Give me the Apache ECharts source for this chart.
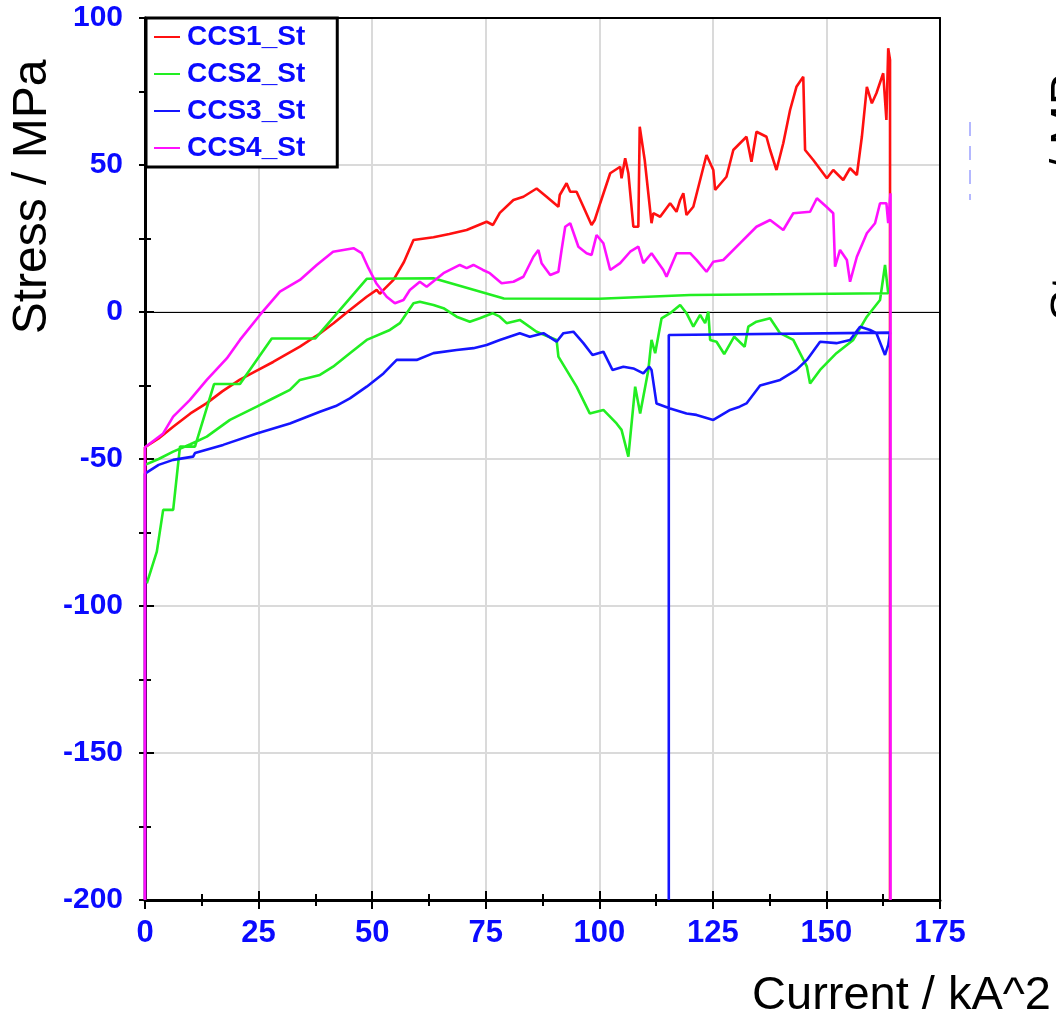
<!DOCTYPE html>
<html>
<head>
<meta charset="utf-8">
<style>
  html, body { margin: 0; padding: 0; background: #ffffff; }
  #chart { width: 1056px; height: 1020px; }
</style>
<script src="https://cdn.jsdelivr.net/npm/echarts@6/dist/echarts.min.js"></script>
</head>
<body>
<div id="chart"></div>
<script>
// Strain-gauge stress readings versus squared coil current.
const seriesNames = ['CCS1_St', 'CCS2_St', 'CCS3_St', 'CCS4_St'];
const seriesColors = ['#ff1010', '#22ee22', '#1515ff', '#ff10ff'];

// [current kA^2, stress MPa] in recording order
const ccs1Points = [
  [0,-200],[0,-46],[3,-43],[6.2,-39],[10,-34.5],[13.6,-31],[17,-27],[20.9,-23],[24.5,-20],[28.2,-17],
  [31,-14.5],[34.1,-11.8],[38.5,-7.3],[41.5,-3.8],[45.1,0.7],[48.8,5.2],[51,7.5],[51.7,6.2],[52.5,7.5],
  [54.7,10.9],[57,17],[59.1,24.5],[63.5,25.4],[67,26.5],[70.8,27.9],[75.2,30.7],[76.6,29.6],[78.1,33.7],
  [81.1,38.1],[83.3,39.2],[86.2,42],[88.4,39.2],[91,35.8],[91.3,39.8],[92.8,43.8],[93.6,40.9],[95,40.9],
  [96.5,35.8],[98.3,29.6],[99,31.3],[100.2,37],[102.4,47.2],[104.6,49.4],[104.9,45.5],[105.7,52.3],
  [106.4,47.2],[107.5,29],[108.6,29],[108.9,63],[110,51.7],[111.5,30.2],[111.9,33.6],[113.4,32.4],
  [115.6,37],[117,34.1],[117.8,38.1],[118.5,40.4],[119.2,33],[120.7,35.8],[123.6,53.4],[125.1,48.3],
  [125.5,41.5],[128,46],[129.5,55.1],[132.4,59.6],[133.5,51.1],[134.6,61.3],[136.8,59.6],[137.6,55.1],
  [139,48.3],[140.5,57.4],[142,68.7],[143.4,76.6],[144.9,80],[145.3,55.1],[147.1,51.7],[150.1,45.5],
  [151.5,48.3],[153.7,44.9],[155.2,48.9],[156.7,46.6],[157.8,59.6],[158.9,76.6],[160,71],[161,74.4],
  [162.5,81.2],[163.2,65.3],[163.6,89.7],[164,85.7],[164,-200]
];

const ccs2Points = [
  [0,-52],[3,-50],[6.2,-47.5],[10,-45],[13.6,-42.4],[18.7,-36.7],[24.6,-32.2],[28,-29.5],[31.9,-26.5],
  [34.1,-23.1],[38.5,-21.4],[41.4,-18.6],[45.1,-14],[48.8,-9.5],[53.9,-6.1],[56.1,-3.8],[59.1,3],
  [60.5,3.5],[63.5,2.4],[65.7,1.3],[68.6,-1.6],[71.5,-3.3],[73.7,-2.1],[76.5,-0.4],[78.1,-1.6],
  [79.6,-3.8],[82.5,-2.7],[86.2,-6.7],[90.6,-9.5],[91,-15.2],[95,-25.4],[97.9,-34.5],[100.9,-33.3],
  [103.8,-37.9],[104.9,-40.1],[106.4,-49.2],[107.9,-25.4],[109,-34.5],[110.8,-19.7],[111.5,-9.5],
  [112.3,-14],[113.7,-2.2],[115.6,-0.4],[117.8,2.4],[119.2,-0.4],[120.7,-5],[122.2,-1],[123.3,-3.8],
  [124,0.1],[124.4,-9.5],[125.8,-10.1],[127.5,-14.3],[129.7,-8.4],[132,-11.8],[132.8,-5],[134.6,-3.3],
  [137.6,-2.1],[139.8,-7.2],[142.7,-9.5],[145.7,-18.6],[146.4,-24.3],[148.6,-19.7],[152.2,-14],
  [155.9,-9.5],[158.9,-1.6],[161.8,4.1],[162.9,16],[163.6,6.4],
  [120,5.8],[100,4.5],[79,4.6],[63.5,11.5],[48.8,11.3],[37.5,-9],[27.9,-9],[20.9,-24.5],[15.2,-24.5],
  [11,-45.8],[7.7,-45.8],[6.2,-67.3],[4,-67.3],[2.6,-81.5],[2.2,-81.5],[0.4,-92.3]
];

const ccs3Points = [
  [0,-200],[0,-55],[3,-52],[6.2,-50.3],[10.6,-49.2],[11,-48],[17.2,-45.2],[24.6,-41.3],[31.9,-37.9],
  [38.5,-33.9],[42,-32],[45.1,-29.4],[48.8,-25.4],[52.5,-20.9],[55.4,-16.3],[59.8,-16.3],[63.5,-14],
  [68.6,-12.9],[72.3,-12.3],[75.2,-11.2],[78.1,-9.5],[82.5,-7.2],[84.7,-8.4],[87.7,-7.2],[90.6,-10.1],
  [92.1,-7.2],[94.3,-6.7],[96.5,-10.6],[98.5,-14.6],[100.9,-13.5],[102.9,-19.7],[105.3,-18.6],
  [107.5,-19.2],[109.7,-20.9],[111,-18.6],[111.5,-19.7],[112.6,-31.1],[115.6,-32.8],[119.2,-34.5],
  [121.4,-35],[125.1,-36.7],[128.8,-33.3],[130.9,-32.2],[132.4,-31.1],[135.4,-25],[139.8,-23.1],
  [143.4,-19.7],[145.7,-16.3],[148.6,-10.1],[152.2,-10.6],[155.2,-9.5],[157.4,-5],[159.6,-6.1],
  [161,-7.2],[162.9,-14.6],[163.6,-11.2],[164,-7],[115.3,-7.8],[115.3,-200]
];

const ccs4Points = [
  [0,-200],[0,-46],[4,-41.3],[6.2,-35.6],[9.9,-29.9],[13.6,-23.1],[18,-15.8],[20.9,-9.5],[25.3,-1],
  [29.7,6.9],[34.1,10.9],[37.8,16],[41.4,20.5],[45.9,21.7],[47.7,20],[49.2,14.9],[50.9,9.8],[53.2,5.2],
  [55,3],[56.9,4.1],[58.3,7.5],[60.5,10.3],[62,8.6],[65.7,13.2],[69.3,16],[70.8,14.9],[72.3,16],
  [74.4,14.3],[75.9,13.2],[78.5,9.8],[81.1,10.3],[83.3,12],[85.5,18.8],[86.6,21.1],[87.3,16.6],
  [89.2,12.6],[91,13.7],[91.7,21.1],[92.5,29],[93.6,30.2],[95.4,22.2],[97.2,20],[98.3,19.4],[99.4,26.2],
  [100.9,23.4],[102.4,14.3],[104.6,16.6],[106.8,20.5],[108.6,22.2],[109.7,16.6],[111.5,20],[114.1,14.3],
  [114.8,12],[117,20],[120,20],[121.4,17.7],[123.6,13.7],[125.1,17.1],[127.3,17.7],[131,23.4],
  [134.6,29],[137.6,31.3],[140.5,27.9],[142.7,33.6],[146.4,34.1],[147.9,38.7],[150,35.8],[151.5,33.6],
  [151.9,15.4],[153,21.1],[154.5,17.7],[155.2,10.3],[156.7,18.8],[158.9,26.8],[160.7,30.2],[161.8,37],
  [163.2,37],[163.6,30.2],[164.1,40.4],[164.1,-200]
];

const xRange = { min: 0, max: 175, step: 25 };
const yRange = { min: -200, max: 100, step: 50 };
const xTitle = 'Current / kA^2';
const yTitle = 'Stress / MPa';

const allPoints = [ccs1Points, ccs2Points, ccs3Points, ccs4Points];

const labelBlue = '#0a0aff';
const gridGray = '#dadada';

function xAxisBase(extra) {
  return Object.assign({
    type: 'value', min: xRange.min, max: xRange.max, interval: xRange.step,
    position: 'bottom', gridIndex: 0
  }, extra);
}
function yAxisBase(extra) {
  return Object.assign({
    type: 'value', min: yRange.min, max: yRange.max, interval: yRange.step,
    position: 'left', gridIndex: 0
  }, extra);
}

const tickStyle = { color: '#000', width: 2 };

const option = {
  animation: false,
  backgroundColor: '#ffffff',
  grid: { left: 145, right: 116, top: 18, bottom: 120, containLabel: false },
  xAxis: [
    xAxisBase({
      axisLine: { show: true, onZero: false, lineStyle: { color: '#000', width: 3 } },
      axisTick: { show: true, inside: true, length: 9, lineStyle: tickStyle },
      minorTick: { show: true, splitNumber: 2, length: 6, lineStyle: tickStyle },
      axisLabel: {
        show: true, margin: 18, color: labelBlue, fontWeight: 'bold', fontSize: 31,
        fontFamily: "'Liberation Sans', Arial, sans-serif"
      },
      splitLine: { show: true, lineStyle: { color: gridGray, width: 2 } }
    }),
    xAxisBase({
      axisLine: { show: false, onZero: false },
      axisTick: { show: true, inside: false, length: 9, lineStyle: tickStyle },
      minorTick: { show: true, splitNumber: 2, length: 6, lineStyle: tickStyle },
      axisLabel: { show: false },
      splitLine: { show: false }
    }),
    xAxisBase({
      position: 'top',
      axisLine: { show: true, onZero: false, lineStyle: { color: '#000', width: 2 } },
      axisTick: { show: false }, axisLabel: { show: false }, splitLine: { show: false }
    })
  ],
  yAxis: [
    yAxisBase({
      axisLine: { show: true, onZero: false, lineStyle: { color: '#000', width: 3 } },
      axisTick: { show: true, inside: true, length: 9, lineStyle: tickStyle },
      minorTick: { show: true, splitNumber: 2, length: 6, lineStyle: tickStyle },
      axisLabel: {
        show: true, margin: 22, color: labelBlue, fontWeight: 'bold', fontSize: 30,
        fontFamily: "'Liberation Sans', Arial, sans-serif"
      },
      splitLine: { show: true, lineStyle: { color: gridGray, width: 2 } }
    }),
    yAxisBase({
      axisLine: { show: false, onZero: false },
      axisTick: { show: true, inside: false, length: 6, lineStyle: tickStyle },
      minorTick: { show: true, splitNumber: 2, length: 6, lineStyle: tickStyle },
      axisLabel: { show: false },
      splitLine: { show: false }
    }),
    yAxisBase({
      position: 'right',
      axisLine: { show: true, onZero: false, lineStyle: { color: '#000', width: 2 } },
      axisTick: { show: false }, axisLabel: { show: false }, splitLine: { show: false }
    })
  ],
  legend: {
    data: seriesNames,
    orient: 'vertical',
    left: 146, top: 18,
    padding: [4, 32, 4, 8],
    itemGap: 7,
    itemWidth: 26,
    itemHeight: 2,
    icon: 'rect',
    backgroundColor: '#ffffff',
    borderColor: '#000000',
    borderWidth: 3,
    borderRadius: 0,
    textStyle: {
      color: labelBlue, fontWeight: 'bold', fontSize: 28, lineHeight: 30,
      fontFamily: "'Liberation Sans', Arial, sans-serif", padding: [0, 0, 0, 2]
    }
  },
  series: seriesNames.map(function (name, i) {
    const s = {
      name: name,
      type: 'line',
      xAxisIndex: 0,
      yAxisIndex: 0,
      data: allPoints[i],
      showSymbol: false,
      symbol: 'none',
      color: seriesColors[i],
      lineStyle: { color: seriesColors[i], width: 2.6 },
      z: 3 + i
    };
    if (i === 0) {
      s.markLine = {
        silent: true, symbol: 'none', label: { show: false },
        lineStyle: { color: '#000', width: 1.2, type: 'solid' },
        data: [{ yAxis: 0 }],
        z: 2
      };
    }
    return s;
  }),
  graphic: [
    {
      type: 'text', x: 33, y: 197, rotation: Math.PI / 2,
      style: {
        text: yTitle, fill: '#000', font: "48px 'Liberation Sans', Arial, sans-serif",
        textAlign: 'center', textVerticalAlign: 'middle'
      }
    },
    {
      type: 'text', x: 1071, y: 184, rotation: Math.PI / 2,
      style: {
        text: yTitle, fill: '#000', font: "48px 'Liberation Sans', Arial, sans-serif",
        textAlign: 'center', textVerticalAlign: 'middle'
      }
    },
    {
      type: 'text', x: 1051, y: 996,
      style: {
        text: xTitle, fill: '#000', font: "47px 'Liberation Sans', Arial, sans-serif",
        textAlign: 'right', textVerticalAlign: 'middle'
      }
    },
    {
      type: 'line', shape: { x1: 970, y1: 122, x2: 970, y2: 200 },
      style: { stroke: '#b4b8ff', lineWidth: 2, lineDash: [14, 10] }
    }
  ]
};

const chart = echarts.init(document.getElementById('chart'), null, { renderer: 'canvas' });
chart.setOption(option);
</script>
</body>
</html>
